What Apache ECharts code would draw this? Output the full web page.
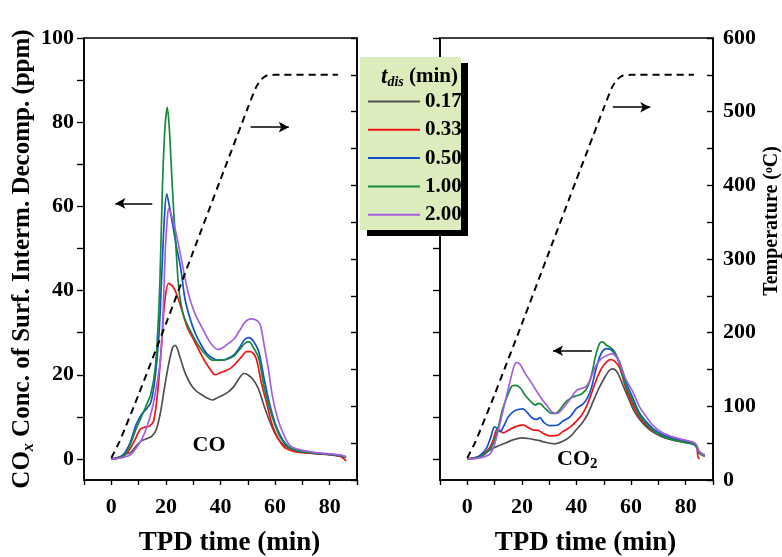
<!DOCTYPE html>
<html>
<head>
<meta charset="utf-8">
<title>TPD of surface intermediates</title>
<script src="https://cdn.jsdelivr.net/npm/echarts@6/dist/echarts.min.js"></script>
<style>
  html, body { margin: 0; padding: 0; background: #fff; }
  #chart { width: 782px; height: 557px; }
</style>
</head>
<body>
<div id="chart"></div>
<script>
// t_dis values (legend)
const seriesNames = ['0.17', '0.33', '0.50', '1.00', '2.00'];
const seriesColors = ['#505050', '#f01414', '#1250d2', '#168a3c', '#a45ee0'];

// CO traces: [TPD time (min), ppm]
const co017 = [[0,0],[3,0.5],[5,1.2],[7,1.5],[9,3],[11,4.3],[13,4.8],[15,5.5],[16.5,7],[18,11],[19.5,17],[21,22.5],[22.5,26.5],[23.5,27],[25,24.5],[27,20.5],[29,17.8],[31,16.2],[33,15.3],[35,14.5],[37,14],[39,14.6],[41,15.2],[43,16],[45,17.3],[47,19.3],[48.5,20.3],[50,20],[52,18.8],[54,16.5],[56,12.5],[58,9],[60,6],[62,4],[64,3],[66,2.3],[68,1.9],[72,1.5],[76,1.2],[80,1],[84,0.6],[86,0.3]];
const co033 = [[0,0],[3,0.3],[5,1],[7,2.5],[9,5],[10.5,7],[12,7.5],[14,7.8],[15.5,9],[17,16],[18.5,28],[19.5,37],[21,41.7],[22.5,41],[24,39],[26,35],[28,31],[30,28.5],[32,26],[34,23.5],[36,21.5],[38,20],[40,20.5],[42,21],[44,21.7],[46,23],[48,24.5],[49.5,25.5],[51,25.5],[53,24],[55,18],[57,13],[59,8],[61,5],[63,3],[65,2.2],[68,1.6],[72,1.4],[76,1.2],[80,1],[84,0.6],[86,-0.5]];
const co050 = [[0,0],[3,0.3],[5,1.5],[7,4],[9,8],[11,10.5],[13,12],[14.5,13.5],[16,19],[17.5,30],[18.5,44],[19.5,58],[20.3,63],[21,61],[22.4,56],[24,50],[25.5,45],[27,38],[29,33],[31,29.5],[33,27],[35,25],[37,24],[39,23.5],[41,23.5],[43,24],[45,24.8],[47,26.5],[49,28.5],[50.5,28.8],[52,28],[54,25.5],[56,19],[58,13],[60,8.5],[62,5.5],[64,3.5],[66,2.5],[69,1.8],[74,1.4],[80,1.1],[84,0.8],[86,0.5]];
const co100 = [[0,0],[3,0.3],[5,1],[7,3.5],[9,7],[11,10],[13,13],[14.5,15.5],[16,21],[17,30],[17.8,42],[18.7,64],[19.6,78],[20.5,83.5],[21.3,78],[22.4,64],[23.9,48],[24.8,40],[26.5,34],[28.5,31],[31,28],[33,26],[35,24.5],[37,23.5],[39,23.5],[41,23.5],[43,23.8],[45,24.5],[47,26],[49,27.5],[50.5,27.8],[52,26.5],[54,24],[56,17],[58,12],[60,8],[62,5],[64,3.3],[66,2.4],[69,1.8],[74,1.4],[80,1.1],[84,0.8],[86,0.4]];
const co200 = [[0,0],[3,0.2],[5,0.5],[7,1],[9,2.5],[11,4.5],[13,7.5],[15,12],[16.5,17],[18,23.5],[19,35],[19.8,50],[20.5,57],[21,59.5],[22,58],[23.6,54],[25.5,48],[27.3,42],[29,37.5],[31,34],[33,31.5],[35,29],[37,27],[39,26],[41,26.5],[43,27.5],[45,28.5],[47,30.5],[49,32.5],[51,33.3],[53,33],[54.5,32],[56,27],[57.5,21.5],[59,15],[61,9.5],[63,6],[65,3.5],[67,2.6],[71,1.9],[75,1.5],[80,1.2],[84,0.9],[86,0.5]];

// CO2 traces: [TPD time (min), ppm]
const co2017 = [[0,0],[4,0.5],[6,1],[8.4,2.2],[11,3],[14,3.8],[17,4.6],[20,5],[23,4.8],[26,4.4],[29,3.9],[32,3.6],[35,4.2],[38,5.5],[40,7],[42,8.5],[44,10.5],[46,13.5],[48,16.5],[50,19],[52,21],[53.3,21.4],[55,20.5],[57,17.5],[59,14.5],[61,11.5],[63,9.5],[65.6,7.6],[68,6.4],[71.5,5.2],[75,4.5],[79,4],[82.6,3.6],[84,3],[85,1.5],[87,1]];
const co2033 = [[0,0],[4,0.4],[6,1.2],[8,2.5],[9.5,4.5],[10.8,7],[12,6.7],[13.1,6.2],[15,6.8],[17,7.5],[20.4,8.1],[22,7.6],[24,6.9],[26,6.8],[28,6],[30.3,5.5],[33,5.6],[35,6.5],[37.5,7.5],[40,9],[42,10.5],[44,13],[46,16.5],[48,20],[50,22.3],[52.5,23.6],[54,23.2],[55.8,21.7],[58,17],[60.6,13],[63,10],[65.6,8],[68,6.6],[71.5,5.4],[75,4.7],[79,4.1],[82.6,3.7],[84,2.8],[84.5,0.5],[85,0]];
const co2050 = [[0,0],[3,0.3],[5,1],[7,2.5],[8.5,5],[10,7.6],[11,7.2],[12,6.5],[13.5,8],[15,10],[17,11.3],[19,11.8],[20.4,11.9],[22,11],[23.7,9.8],[25.5,9.4],[26.6,9.8],[28,8.7],[30.3,7.9],[33,8],[35,9],[37.6,10],[40,12],[42.3,13],[44,14.5],[45.5,17],[47.4,22],[49,25],[51,26.2],[52.5,26],[54,25],[55.8,23],[58,18.5],[60.6,14.5],[63,11],[65.6,8.8],[68,7.2],[71.5,5.8],[75,5],[79,4.4],[82.6,3.8],[84,3],[85,1.5],[87,0.7]];
const co2100 = [[0,0],[3,0.2],[5,0.6],[7,1.5],[8.5,2.5],[10,4.5],[11.5,8],[13,12],[15,15.5],[16.5,17.4],[18,17.5],[19.5,16.8],[21,15.3],[23,13.8],[25,12.8],[26,13.2],[27,13],[28.5,12],[30.3,11],[32.2,10.8],[34,11.8],[36,13.5],[38,14.5],[40,15],[42,15.5],[44,17],[45.5,20],[47,24.5],[48.5,27.5],[49.5,27.8],[51,27],[53,26.2],[54.5,24.8],[56,22],[58,17.5],[60.6,13.8],[63,10.5],[65.6,8.3],[68,6.8],[71.5,5.4],[75,4.6],[79,4],[82.6,3.5],[84,2.8],[85,1.3],[87,0.6]];
const co2200 = [[0,0],[3,0.1],[5,0.3],[7,0.7],[8.5,1.3],[10,3.5],[12,8.5],[14,14],[15.7,18.5],[17,21.8],[18,22.9],[19.3,22.5],[21,20.5],[23,18.6],[25,16.5],[27,14.5],[29,12.8],[31,11.2],[32.8,10.8],[34,11.3],[36,12.8],[38,14.5],[40,16.3],[42,16.8],[43.5,17.2],[45,18.8],[47,22],[49,23.8],[51,24.5],[53,25],[54.5,24.3],[56,22.5],[58,19],[60.6,16],[63,12.5],[65.6,10],[68,8],[71.5,6.2],[75,5.3],[79,4.6],[82.6,4],[84,3.3],[85,1.8],[87,0.8]];

// temperature program (dashed), [min, degC]
const tempProfile = [[0,30],[3,52],[10,116],[20,212],[30,310],[40,408],[50,505],[53,533],[55,544],[57,549],[60,550],[83,550]];

// tick values
const xLabelTicks = [0, 20, 40, 60, 80];
const concTicks = [0, 10, 20, 30, 40, 50, 60, 70, 80, 90, 100];
const concLabels = [0, 20, 40, 60, 80, 100];

const coData = [co017, co033, co050, co100, co200];
const co2Data = [co2017, co2033, co2050, co2100, co2200];

const FONT = 'Liberation Serif';
const AXIS_LINE = { show: true, onZero: false, lineStyle: { color: '#000', width: 1.6 } };
const TICK_LABEL = { fontFamily: FONT, fontWeight: 'bold', fontSize: 22, color: '#000' };

const chart = echarts.init(document.getElementById('chart'));

function xAxisFor(gridIndex) {
    return {
        type: 'value', gridIndex: gridIndex, min: -10, max: 90, interval: 10,
        name: 'TPD time (min)', nameLocation: 'middle', nameGap: 50,
        nameTextStyle: { fontFamily: FONT, fontWeight: 'bold', fontSize: 27, color: '#000', padding: [0, 0, 0, 18] },
        axisLine: AXIS_LINE,
        axisTick: { inside: false, length: 5, lineStyle: { color: '#000', width: 1.4 } },
        axisLabel: Object.assign({}, TICK_LABEL, {
            margin: 16,
            formatter: v => (xLabelTicks.indexOf(v) >= 0 ? String(v) : '')
        }),
        splitLine: { show: false }
    };
}

// concentration series for one panel
function concSeries(dataSets, xi, yi) {
    return dataSets.map((d, i) => ({
        name: seriesNames[i], type: 'line', xAxisIndex: xi, yAxisIndex: yi,
        data: d, showSymbol: false, smooth: 0.3, z: 3,
        lineStyle: { color: seriesColors[i], width: 1.7 },
        itemStyle: { color: seriesColors[i] }
    }));
}

// arrow pointing to the axis the curve belongs to
function arrowMark(from, to) {
    return {
        silent: true, symbol: ['none', 'arrow'], symbolSize: [8, 10],
        lineStyle: { color: '#000', width: 1.5, type: 'solid' },
        label: { show: false },
        data: [[{ coord: from }, { coord: to }]]
    };
}

function labelMark(coord, text) {
    return {
        silent: true, symbol: 'circle', symbolSize: 0,
        data: [{ coord: coord, value: text }],
        label: {
            show: true, position: 'inside', color: '#000',
            formatter: text,
            rich: {
                b: { fontFamily: FONT, fontWeight: 'bold', fontSize: 22, color: '#000' },
                s: { fontFamily: FONT, fontWeight: 'bold', fontSize: 15, color: '#000', padding: [10, 0, 0, 0] }
            }
        }
    };
}

const gridBase = { top: 38, width: 273, height: 442, show: true, borderColor: '#000', borderWidth: 1.6, backgroundColor: 'transparent', containLabel: false, outerBoundsMode: 'none' };

const option = {
    animation: false,
    backgroundColor: '#fff',
    grid: [
        Object.assign({ left: 84 }, gridBase),
        Object.assign({ left: 440 }, gridBase)
    ],
    xAxis: [xAxisFor(0), xAxisFor(1)],
    yAxis: [
        // left panel: concentration (labelled)
        {
            type: 'value', gridIndex: 0, min: -5, max: 100, position: 'left',
            name: '{a|CO}{x|x}{a| Conc. of Surf. Interm. Decomp. (ppm)}',
            nameLocation: 'middle', nameGap: 46, nameRotate: 90,
            nameTextStyle: {
                rich: {
                    a: { fontFamily: FONT, fontWeight: 'bold', fontSize: 25, color: '#000' },
                    x: { fontFamily: FONT, fontWeight: 'bold', fontStyle: 'italic', fontSize: 16, color: '#000', padding: [14, 0, 0, 0] }
                }
            },
            axisLine: AXIS_LINE,
            axisTick: { show: true, inside: false, length: 7, customValues: concTicks, lineStyle: { color: '#000', width: 1.4 } },
            axisLabel: Object.assign({}, TICK_LABEL, { margin: 10, customValues: concLabels }),
            splitLine: { show: false }
        },
        // left panel: temperature ticks on right edge
        {
            type: 'value', gridIndex: 0, min: 0, max: 600, interval: 50, position: 'right',
            axisLine: AXIS_LINE,
            axisTick: { show: true, inside: true, length: 6, lineStyle: { color: '#000', width: 1.4 } },
            axisLabel: { show: false },
            splitLine: { show: false }
        },
        // right panel: concentration ticks, no labels
        {
            type: 'value', gridIndex: 1, min: -5, max: 100, position: 'left',
            axisLine: AXIS_LINE,
            axisTick: { show: true, inside: false, length: 7, customValues: concTicks, lineStyle: { color: '#000', width: 1.4 } },
            axisLabel: { show: false },
            splitLine: { show: false }
        },
        // right panel: temperature (labelled)
        {
            type: 'value', gridIndex: 1, min: 0, max: 600, interval: 50, position: 'right',
            name: 'Temperature (\u1d52C)', nameLocation: 'middle', nameGap: 49, nameRotate: 90,
            nameTextStyle: { fontFamily: FONT, fontWeight: 'bold', fontSize: 20, color: '#000', padding: [0, 0, 0, 76] },
            axisLine: AXIS_LINE,
            axisTick: { show: true, inside: true, length: 6, lineStyle: { color: '#000', width: 1.4 } },
            axisLabel: Object.assign({}, TICK_LABEL, {
                margin: 10,
                formatter: v => (v % 100 === 0 ? String(v) : '')
            }),
            splitLine: { show: false }
        }
    ],
    legend: {
        data: seriesNames,
        orient: 'vertical', left: 363, top: 86,
        icon: 'rect', itemWidth: 52, itemHeight: 2, itemGap: 7.3,
        textStyle: { fontFamily: FONT, fontWeight: 'bold', fontSize: 21, color: '#000', lineHeight: 20 },
        selectedMode: false, z: 20
    },
    graphic: [
        { type: 'rect', z: 10, shape: { x: 367, y: 63, width: 101, height: 173 }, style: { fill: '#000' } },
        { type: 'rect', z: 11, shape: { x: 360, y: 57, width: 101, height: 173 }, style: { fill: '#ddecbd' } },
        {
            type: 'text', z: 12, x: 458, y: 77,
            style: {
                text: '{t|t}{s|dis}{m| (min)}', align: 'right', verticalAlign: 'middle',
                rich: {
                    t: { fontFamily: FONT, fontWeight: 'bold', fontStyle: 'italic', fontSize: 23, fill: '#000' },
                    s: { fontFamily: FONT, fontWeight: 'bold', fontStyle: 'italic', fontSize: 14, fill: '#000', padding: [10, 0, 0, 0] },
                    m: { fontFamily: FONT, fontWeight: 'bold', fontSize: 21, fill: '#000' }
                }
            }
        }
    ],
    series: [].concat(
        concSeries(coData, 0, 0),
        concSeries(co2Data, 1, 2),
        [
            {
                name: 'T-left', type: 'line', xAxisIndex: 0, yAxisIndex: 1, data: tempProfile,
                showSymbol: false, smooth: 0.2, z: 4,
                lineStyle: { color: '#000', width: 2, type: [7, 5] },
                markLine: arrowMark([51, 479], [65, 479])
            },
            {
                name: 'T-right', type: 'line', xAxisIndex: 1, yAxisIndex: 3, data: tempProfile,
                showSymbol: false, smooth: 0.2, z: 4,
                lineStyle: { color: '#000', width: 2, type: [7, 5] },
                markLine: arrowMark([53.3, 506], [67, 506])
            },
            {
                name: 'CO-note', type: 'line', xAxisIndex: 0, yAxisIndex: 0, data: [],
                markLine: arrowMark([15, 60.7], [1.5, 60.7]),
                markPoint: labelMark([35.8, 3.2], '{b|CO}')
            },
            {
                name: 'CO2-note', type: 'line', xAxisIndex: 1, yAxisIndex: 2, data: [],
                markLine: arrowMark([45.6, 25.7], [31.4, 25.7]),
                markPoint: labelMark([40.3, 0], '{b|CO}{s|2}')
            }
        ]
    )
};

chart.setOption(option);
</script>
</body>
</html>
